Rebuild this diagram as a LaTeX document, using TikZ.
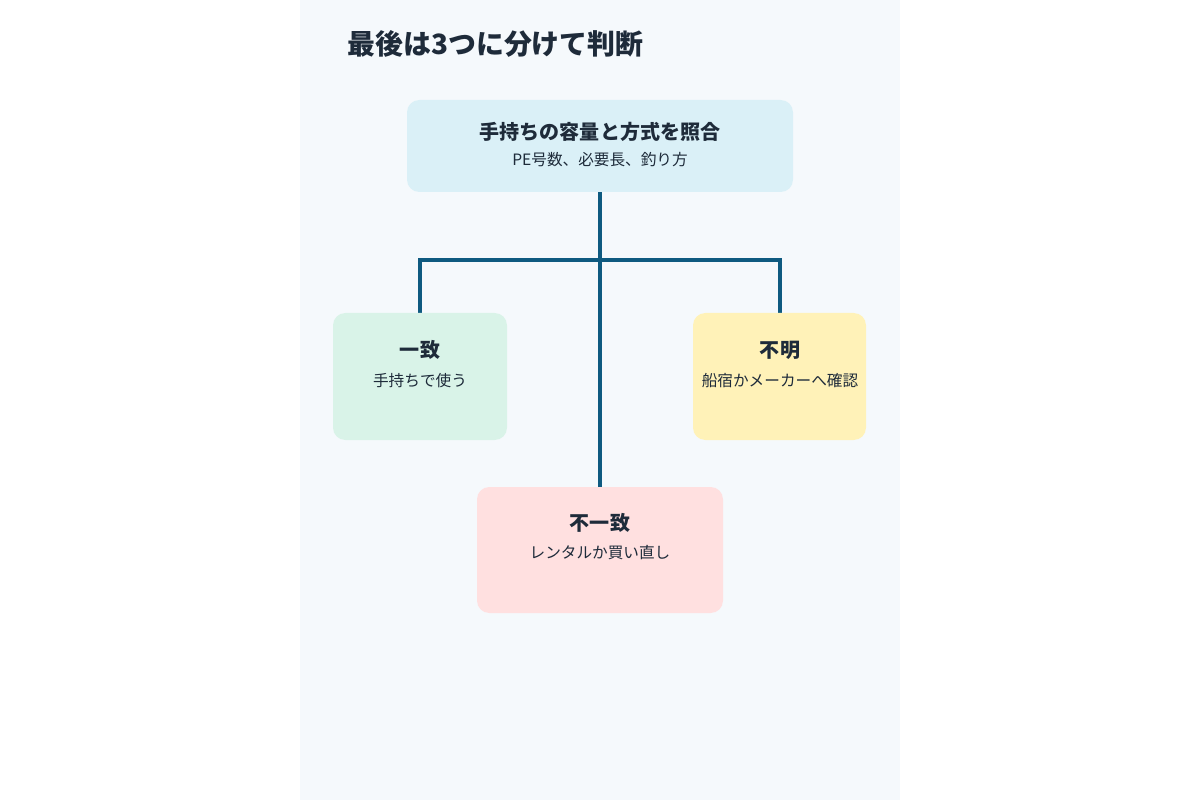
\documentclass[tikz,border=0pt]{standalone}
\usepackage{fontspec}
\setmainfont{Noto Sans CJK JP}
\usetikzlibrary{positioning}
\definecolor{panelbg}{HTML}{F5F9FC}
\definecolor{linkcol}{HTML}{0E5A80}
\definecolor{inkcol}{HTML}{1E2B3A}
\definecolor{topfill}{HTML}{DAF0F7}
\definecolor{okfill}{HTML}{D9F3E8}
\definecolor{ngfill}{HTML}{FFE0E0}
\definecolor{unkfill}{HTML}{FFF2B8}
\begin{document}
\begin{tikzpicture}[x=0.02cm,y=-0.02cm,
  box/.style={rounded corners=7pt,inner sep=0pt},
  head/.style={font=\bfseries\fontsize{11.4}{13}\selectfont,text=inkcol},
  sub/.style={font=\fontsize{8.9}{10}\selectfont,text=inkcol},
  link/.style={draw=linkcol,line width=2.4pt}]
  \useasboundingbox (0,0) rectangle (1200,800);
  \fill[panelbg] (300,0) rectangle (900,800);
  %title
  \node[anchor=west,inner sep=0pt,font=\bfseries\fontsize{15.9}{18}\selectfont,text=inkcol] (title) at (347,44) {最後は3つに分けて判断};
  %connectors
  \coordinate (J) at (600,260);
  \coordinate (JL) at (420,260);
  \coordinate (JR) at (780,260);
  \draw[link] (600,192) -- (600,488);
  \draw[link] (420,314) -- (JL) -- (JR) -- (780,314);
  %boxes
  \fill[box,topfill] (407,100) rectangle (793,192);
  \fill[box,okfill] (333,313) rectangle (507,440);
  \fill[box,unkfill] (693,313) rectangle (866,440);
  \fill[box,ngfill] (477,487) rectangle (723,613);
  %texts
  \node[head] (match) at (600,132) {手持ちの容量と方式を照合};
  \node[sub] (matchsub) at (600,160) {PE号数、必要長、釣り方};
  \node[head] (ok) at (420,350) {一致};
  \node[sub] (oksub) at (420,381) {手持ちで使う};
  \node[head] (unk) at (780,350) {不明};
  \node[sub] (unksub) at (780,381) {船宿かメーカーへ確認};
  \node[head] (ng) at (600,523) {不一致};
  \node[sub] (ngsub) at (600,553) {レンタルか買い直し};
\end{tikzpicture}
\end{document}
